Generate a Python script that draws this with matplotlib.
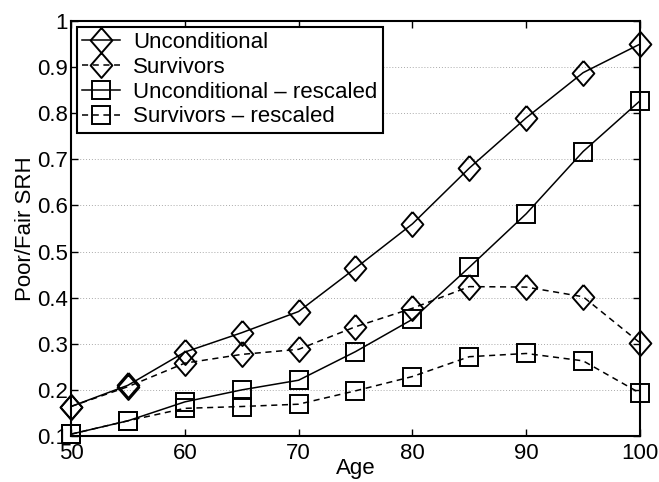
import numpy as np
import matplotlib
matplotlib.use("Agg")
import matplotlib.pyplot as plt
from matplotlib.ticker import MultipleLocator

plt.rcParams['font.family'] = ['Liberation Sans', 'DejaVu Sans']

age = [50, 55, 60, 65, 70, 75, 80, 85, 90, 95, 100]
unconditional = [0.164, 0.210, 0.282, 0.324, 0.370, 0.464, 0.560, 0.681, 0.790, 0.888, 0.950]
survivors = [0.164, 0.207, 0.258, 0.277, 0.288, 0.337, 0.377, 0.424, 0.423, 0.402, 0.302]
uncond_rescaled = [0.104, 0.133, 0.174, 0.200, 0.221, 0.283, 0.353, 0.466, 0.582, 0.717, 0.827]
surv_rescaled = [0.104, 0.133, 0.160, 0.164, 0.169, 0.198, 0.229, 0.272, 0.279, 0.263, 0.193]

ytick_vals = [0.1, 0.2, 0.3, 0.4, 0.5, 0.6, 0.7, 0.8, 0.9, 1.0]
ytick_labels = ['0.1', '0.2', '0.3', '0.4', '0.5', '0.6', '0.7', '0.8', '0.9', '1']

# slightly tall diamond like the MATLAB marker
diamond = [(0, 1.15), (1, 0), (0, -1.15), (-1, 0), (0, 1.15)]

fs = 16

fig = plt.figure(figsize=(6.59, 4.82), dpi=100)
ax = fig.add_axes([0.1077, 0.0954, 0.8635, 0.861])

common = dict(color='k', lw=1.1, mfc='none', mec='k', mew=1.4, clip_on=False)
ax.plot(age, unconditional, '-', marker=diamond, ms=18, label='Unconditional', **common)
ax.plot(age, survivors, '--', marker=diamond, ms=18, label='Survivors', dashes=(4, 3), **common)
ax.plot(age, uncond_rescaled, '-', marker='s', ms=12.6, label='Unconditional \u2013 rescaled', **common)
ax.plot(age, surv_rescaled, '--', marker='s', ms=12.6, label='Survivors \u2013 rescaled', dashes=(4, 3), **common)

ax.set_xlim(50, 100)
ax.set_ylim(0.1, 1.0)
ax.xaxis.set_major_locator(MultipleLocator(10))
ax.set_yticks(ytick_vals)
ax.set_yticklabels(ytick_labels)
ax.yaxis.grid(True, linestyle=(0, (1, 2)), color='#aaaaaa', lw=0.7)
ax.set_axisbelow(True)

ax.tick_params(direction='in', length=5, width=1.0, top=True, right=True,
               labelsize=fs)
ax.tick_params(axis='x', pad=5)
ax.tick_params(axis='y', pad=2)
for s in ax.spines.values():
    s.set_linewidth(1.5)

ax.set_xlabel('Age', fontsize=fs, labelpad=-4)
ax.set_ylabel('Poor/Fair SRH', fontsize=fs, labelpad=1)

leg = ax.legend(loc='upper left', fontsize=fs, handlelength=1.7, handletextpad=0.6,
                labelspacing=0.17, borderpad=0.25, borderaxespad=0.25,
                fancybox=False, framealpha=1, edgecolor='k')
leg.get_frame().set_linewidth(1.5)

fig.savefig('out.png', dpi=100)
